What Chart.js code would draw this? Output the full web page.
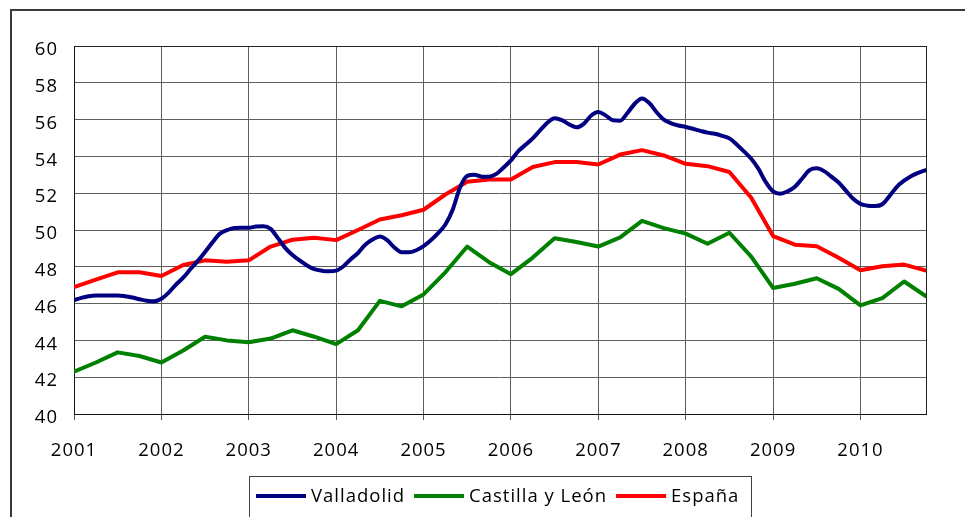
<!DOCTYPE html>
<html><head><meta charset="utf-8">
<script src="https://cdn.jsdelivr.net/npm/chart.js@4/dist/chart.umd.min.js"></script>
<style>
html,body{margin:0;padding:0;background:#fff;overflow:hidden}
#wrap{position:relative;width:965px;height:517px;overflow:hidden}
#frame{position:absolute;left:10px;top:9px;width:1200px;height:800px;border:2px solid #3a3a3a;pointer-events:none}
canvas{display:block}
</style></head><body>
<div id="wrap"><canvas id="c" width="965" height="517"></canvas><div id="frame"></div></div>
<script>
// ---- data ----
const seriesNames = ['Valladolid', 'Castilla y León', 'España'];
const firstYear = 2001;
const lastPeriod = 2010.75;
const yearTicks = [2001, 2002, 2003, 2004, 2005, 2006, 2007, 2008, 2009, 2010];
const valueTicks = [40, 42, 44, 46, 48, 50, 52, 54, 56, 58, 60];

// Valladolid: monthly, Jan 2001 .. Oct 2010
const valladolid = [
 46.18,46.31,46.40,46.44,46.44,46.44,46.44,46.40,46.33,46.24,46.16,46.13,
 46.26,46.60,47.03,47.41,47.88,48.32,48.81,49.32,49.79,49.99,50.11,50.12,
 50.12,50.19,50.21,50.06,49.56,49.03,48.64,48.34,48.07,47.87,47.79,47.76,
 47.79,48.03,48.41,48.75,49.20,49.48,49.65,49.45,49.05,48.79,48.79,48.90,
 49.12,49.44,49.83,50.30,51.10,52.30,52.94,53.00,52.90,52.90,53.05,53.40,
 53.78,54.28,54.63,54.98,55.41,55.83,56.08,55.97,55.74,55.58,55.77,56.21,
 56.41,56.23,55.96,55.94,56.36,56.86,57.15,56.90,56.40,56.00,55.80,55.68,
 55.60,55.50,55.39,55.29,55.23,55.12,54.98,54.65,54.27,53.87,53.32,52.60,
 52.10,51.97,52.10,52.35,52.80,53.25,53.35,53.20,52.90,52.58,52.14,51.70,
 51.42,51.32,51.30,51.40,51.85,52.35,52.68,52.94,53.12,53.25
];
// Castilla y León: quarterly, 2001 Q1 .. 2010 Q4
const castillaLeon = [
 42.30,42.80,43.35,43.15, 42.80,43.45,44.20,44.00, 43.90,44.10,44.55,44.20,
 43.80,44.55,46.15,45.85, 46.50,47.70,49.10,48.25, 47.60,48.50,49.55,49.35,
 49.10,49.60,50.50,50.10, 49.80,49.25,49.85,48.55, 46.85,47.08,47.38,46.80,
 45.90,46.30,47.20,46.40
];
// España: quarterly, 2001 Q1 .. 2010 Q4
const espana = [
 46.90,47.30,47.70,47.70, 47.50,48.10,48.35,48.28, 48.35,49.10,49.47,49.58,
 49.45,50.00,50.57,50.80, 51.10,51.93,52.62,52.75, 52.75,53.42,53.69,53.69,
 53.56,54.10,54.34,54.05, 53.60,53.47,53.15,51.75, 49.67,49.20,49.12,48.49,
 47.81,48.03,48.12,47.80
];

// ---- build ----
const monthly = arr => arr.map((v, i) => ({x: firstYear + i / 12, y: v}));
const quarterly = arr => arr.map((v, i) => ({x: firstYear + i / 4, y: v}));
const FONT = '"Open Sans"';
const FSIZE = 18.5;
const SPACING = '1px';
const colors = ['#000080', '#008000', '#ff0000'];

const spacingPlugin = {
  id: 'spacing',
  beforeUpdate(chart) { chart.ctx.letterSpacing = SPACING; },
  beforeDraw(chart) { chart.ctx.letterSpacing = SPACING; }
};

const legendPlugin = {
  id: 'boxLegend',
  afterDraw(chart) {
    const ctx = chart.ctx, ca = chart.chartArea;
    ctx.save();
    ctx.letterSpacing = SPACING;
    ctx.font = FSIZE + 'px ' + FONT;
    const items = chart.data.datasets.map(d => ({label: d.label, color: d.borderColor, w: ctx.measureText(d.label).width}));
    const lineLen = 50, gapLT = 5, gapItem = 9, padL = 7, padR = 12;
    const total = items.reduce((s, it) => s + lineLen + gapLT + it.w, 0) + gapItem * (items.length - 1);
    const boxW = Math.round(total + padL + padR);
    const cx = (ca.left + ca.right) / 2;
    const left = Math.round(cx - boxW / 2);
    const top = Math.round(ca.bottom + 62);
    ctx.strokeStyle = '#404040';
    ctx.lineWidth = 1;
    ctx.strokeRect(left + 0.5, top + 0.5, boxW, 200);
    let x = left + padL;
    const ly = top + 20;
    ctx.textBaseline = 'middle';
    ctx.fillStyle = '#000';
    items.forEach(it => {
      ctx.beginPath();
      ctx.strokeStyle = it.color;
      ctx.lineWidth = 4;
      ctx.moveTo(x, ly);
      ctx.lineTo(x + lineLen, ly);
      ctx.stroke();
      x += lineLen + gapLT;
      ctx.fillText(it.label, x, ly + 1);
      x += it.w + gapItem;
    });
    ctx.restore();
  }
};

const isYear = v => Math.abs(v - Math.round(v)) < 1e-6;

new Chart(document.getElementById('c'), {
  type: 'line',
  data: {
    datasets: [
      {label: seriesNames[0], data: monthly(valladolid), borderColor: colors[0], cubicInterpolationMode: 'monotone'},
      {label: seriesNames[1], data: quarterly(castillaLeon), borderColor: colors[1], tension: 0},
      {label: seriesNames[2], data: quarterly(espana), borderColor: colors[2], tension: 0}
    ]
  },
  options: {
    responsive: false,
    animation: false,
    devicePixelRatio: 1,
    layout: {padding: {left: 0, top: 46, right: 39, bottom: 53}},
    elements: {
      point: {radius: 0},
      line: {borderWidth: 4, fill: false, borderCapStyle: 'round', borderJoinStyle: 'round'}
    },
    plugins: {legend: {display: false}, tooltip: {enabled: false}},
    scales: {
      x: {
        type: 'linear',
        min: firstYear,
        max: lastPeriod,
        afterBuildTicks: s => { s.ticks = yearTicks.map(v => ({value: v})).concat([{value: lastPeriod}]); },
        afterFit: s => { s.height = 50; },
        ticks: {
          font: {family: FONT, size: FSIZE},
          color: '#000',
          padding: 20,
          maxRotation: 0,
          autoSkip: false,
          callback: v => isYear(v) ? String(Math.round(v)) : ''
        },
        grid: {
          color: c => (c.tick && isYear(c.tick.value)) ? '#5e5e5e' : '#222',
          lineWidth: 1,
          tickLength: 6,
          tickColor: c => (c.tick && isYear(c.tick.value)) ? '#555' : 'rgba(0,0,0,0)'
        },
        border: {display: true, color: '#111', width: 1}
      },
      y: {
        min: 40,
        max: 60,
        afterBuildTicks: s => { s.ticks = valueTicks.map(v => ({value: v})); },
        afterFit: s => { s.width = 74; },
        ticks: {
          font: {family: FONT, size: FSIZE},
          color: '#000',
          padding: 16,
          labelOffset: 4
        },
        grid: {
          color: c => (c.tick && c.tick.value === 60) ? '#222' : '#5e5e5e',
          lineWidth: 1,
          drawTicks: false
        },
        border: {display: true, color: '#111', width: 1}
      }
    }
  },
  plugins: [spacingPlugin, legendPlugin]
});
</script>
</body></html>
